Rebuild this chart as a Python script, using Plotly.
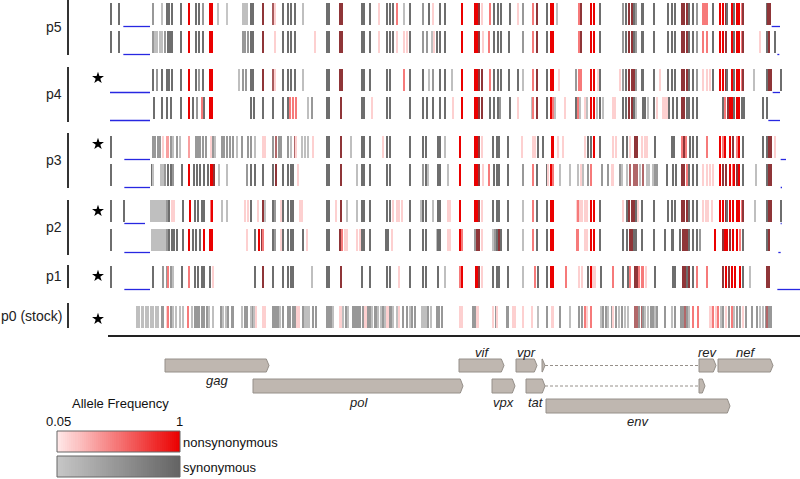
import plotly.graph_objects as go

# Genome position (scaled units, ~3 units per screen pixel) ; frequency ; type
# type: 'S' synonymous, 'N' nonsynonymous, 'B' both (overlapping N + S)
P5A = [(332,.9,'S'),(357,.9,'S'),(460,.5,'S'),(487,.12,'S'),(500,.9,'S'),(508,.9,'S'),(516,.9,'S'),(543,.9,'S'),(568,1,'N'),(587,.9,'S'),(598,.9,'S'),(610,.5,'S'),(630,1,'N'),(636,1,'N'),(655,.12,'S'),(680,.05,'S'),(728,.12,'S'),(735,.12,'S'),(742,.12,'S'),(752,.9,'S'),(760,.9,'S'),
(790,.9,'B'),(820,.6,'B'),(825,.15,'N'),(848,.9,'S'),(865,.9,'S'),(873,.9,'S'),(885,.9,'S'),(910,.12,'S'),(980,.9,'S'),(987,.9,'S'),(1020,.9,'B'),(1025,.9,'B'),(1085,.9,'S'),(1092,.9,'S'),(1110,.9,'S'),(1138,.15,'N'),(1162,.9,'S'),(1170,.9,'S'),(1178,.9,'S'),(1192,.5,'N'),(1212,.12,'S'),(1230,.9,'S'),(1270,.5,'S'),(1288,.9,'S'),(1298,.15,'N'),(1320,.9,'S'),(1335,.9,'S'),(1385,1,'N'),(1425,1,'N'),(1432,1,'N'),(1438,.9,'B'),(1445,.15,'N'),(1470,.5,'N'),(1482,.9,'S'),(1495,.9,'S'),(1502,.9,'S'),(1530,.9,'S'),(1555,.15,'N'),(1570,.5,'S'),
(1600,.5,'N'),(1610,.9,'B'),(1640,.9,'S'),(1652,1,'N'),(1658,1,'N'),(1670,.12,'S'),(1738,.5,'N'),(1743,.9,'B'),(1772,1,'N'),(1782,1,'N'),(1800,.9,'S'),(1868,.5,'S'),(1878,.9,'S'),(1888,.9,'B'),(1895,.9,'B'),(1902,.9,'S'),(1908,.5,'S'),(1925,.9,'S'),(1930,.9,'S'),(1962,.9,'S'),(2005,.9,'S'),(2015,.9,'S'),(2025,.9,'S'),(2045,.9,'B'),(2052,.9,'B'),(2060,.9,'B'),(2068,.9,'S'),(2080,.9,'S'),(2092,.5,'S'),(2110,.5,'N'),(2115,.5,'N'),(2120,.5,'N'),(2138,.9,'S'),(2160,1,'N'),(2168,1,'N'),(2178,.9,'B'),(2182,.9,'S'),(2195,1,'N'),(2202,.9,'S'),(2210,1,'N'),(2218,1,'N'),(2225,.5,'N'),(2230,.9,'B'),(2300,.9,'S'),(2305,.9,'B'),(2310,.9,'B')]

P5B = [(332,.9,'S'),(357,.9,'S'),(460,.5,'S'),(465,.12,'S'),(472,.12,'S'),(480,.12,'S'),(487,.12,'S'),(495,.5,'S'),(503,.9,'S'),(510,.9,'S'),(517,.9,'S'),(543,.9,'S'),(568,1,'N'),(587,.9,'S'),(598,.9,'S'),(610,.9,'S'),(630,1,'N'),(637,1,'N'),(728,.5,'S'),(735,.5,'S'),(745,.5,'S'),(752,.9,'S'),(760,.9,'S'),
(790,.9,'B'),(825,.15,'N'),(848,.9,'S'),(865,.9,'S'),(873,.9,'S'),(885,.9,'S'),(945,.15,'N'),(980,.9,'S'),(987,.9,'S'),(1020,.9,'B'),(1025,.9,'B'),(1085,.9,'S'),(1092,.9,'S'),(1110,.9,'S'),(1138,.15,'N'),(1162,.9,'S'),(1170,.9,'S'),(1178,.9,'S'),(1192,.15,'N'),(1212,.15,'N'),(1220,.15,'N'),(1230,.9,'S'),(1270,.5,'S'),(1280,.5,'S'),(1295,.12,'S'),(1302,.15,'N'),(1310,.9,'S'),(1320,.9,'S'),(1335,.9,'S'),(1385,1,'N'),(1425,1,'N'),(1432,1,'N'),(1438,.9,'B'),(1450,.15,'N'),(1468,.5,'N'),(1482,.9,'S'),(1495,.9,'S'),(1502,.9,'S'),(1528,.9,'S'),(1570,.5,'S'),
(1600,.5,'N'),(1610,.9,'B'),(1640,.9,'S'),(1652,1,'N'),(1658,1,'N'),(1738,.5,'N'),(1743,.9,'B'),(1772,1,'N'),(1782,1,'N'),(1800,.9,'S'),(1868,.5,'S'),(1878,.9,'S'),(1888,.9,'B'),(1895,.9,'B'),(1902,.9,'S'),(1908,.5,'S'),(1925,.9,'S'),(1930,.9,'S'),(1962,.9,'S'),(2005,.9,'S'),(2015,.9,'S'),(2025,.9,'S'),(2045,.9,'B'),(2052,.9,'B'),(2060,.9,'B'),(2068,.9,'S'),(2080,.9,'S'),(2092,.5,'S'),(2110,.5,'N'),(2120,.5,'N'),(2138,.9,'S'),(2160,1,'N'),(2168,1,'N'),(2178,.9,'B'),(2195,1,'N'),(2202,.9,'S'),(2210,1,'N'),(2218,1,'N'),(2225,.5,'N'),(2230,.9,'B'),(2280,.15,'N'),(2302,.9,'S'),(2308,.9,'B'),(2325,.9,'S')]

P4A = [(460,.9,'S'),(470,.5,'S'),(487,.9,'S'),(500,.9,'S'),(508,.9,'S'),(516,.9,'S'),(543,.9,'S'),(568,1,'N'),(587,.9,'S'),(598,.5,'S'),(610,.9,'S'),(630,1,'N'),(637,1,'N'),(718,.12,'S'),(728,.5,'S'),(738,.5,'S'),(752,.9,'S'),(760,.9,'S'),
(790,.9,'B'),(820,.6,'B'),(825,.15,'N'),(848,.9,'S'),(865,.9,'S'),(873,.9,'S'),(885,.9,'S'),(910,.12,'S'),(980,.9,'S'),(987,.9,'S'),(1020,.9,'B'),(1025,.9,'B'),(1085,.9,'S'),(1092,.9,'S'),(1110,.9,'S'),(1162,.9,'S'),(1170,.9,'S'),(1212,.5,'N'),(1230,.9,'S'),(1270,.9,'S'),(1288,.12,'S'),(1298,.5,'S'),(1320,.9,'S'),(1335,.9,'S'),(1355,.12,'S'),(1385,1,'N'),(1425,1,'N'),(1432,1,'N'),(1438,.9,'B'),(1445,.9,'B'),(1470,.5,'N'),(1482,.9,'S'),(1495,.9,'S'),(1502,.9,'S'),(1528,.9,'S'),(1555,.9,'S'),(1570,.12,'S'),
(1600,.5,'N'),(1610,.9,'B'),(1640,.9,'S'),(1652,1,'N'),(1658,1,'N'),(1678,.15,'N'),(1728,.5,'S'),(1738,.5,'N'),(1743,.5,'N'),(1772,1,'N'),(1782,1,'N'),(1795,.15,'N'),(1800,.9,'S'),(1860,.15,'N'),(1868,.5,'S'),(1878,.9,'S'),(1888,.9,'B'),(1895,.9,'B'),(1902,.9,'B'),(1908,.5,'S'),(1925,.9,'S'),(1930,.9,'S'),(1962,.9,'S'),(1980,.15,'N'),(2005,.9,'S'),(2015,.9,'S'),(2025,.9,'S'),(2045,.9,'B'),(2052,.9,'B'),(2060,.9,'B'),(2068,.9,'S'),(2080,.9,'S'),(2092,.5,'S'),(2110,.15,'N'),(2120,.15,'N'),(2130,.15,'N'),(2138,.9,'S'),(2160,1,'N'),(2168,1,'N'),(2178,.9,'B'),(2182,.9,'S'),(2195,1,'N'),(2202,.9,'S'),(2210,1,'N'),(2218,1,'N'),(2225,.5,'N'),(2230,.9,'B'),(2262,.12,'S'),(2302,.9,'S'),(2308,.9,'B'),(2312,.9,'B'),(2342,.9,'S')]

P4B = [(462,.9,'S'),(487,.9,'S'),(500,.9,'S'),(512,.9,'S'),(543,.9,'S'),(568,1,'N'),(580,.9,'S'),(592,.5,'S'),(605,.5,'N'),(612,.9,'S'),(630,1,'N'),(637,1,'N'),(752,.9,'S'),(762,.9,'S'),
(790,.9,'S'),(820,.9,'S'),(848,.9,'S'),(865,.9,'S'),(870,.5,'N'),(880,.5,'N'),(888,.5,'N'),(925,.12,'S'),(935,.5,'S'),(980,.9,'S'),(987,.9,'S'),(1023,.9,'B'),(1085,.9,'S'),(1092,.9,'S'),(1115,.15,'N'),(1162,.9,'S'),(1170,.9,'S'),(1230,.9,'S'),(1270,.9,'S'),(1280,.9,'S'),(1298,.9,'S'),(1320,.9,'S'),(1335,.9,'S'),(1360,.15,'N'),(1385,1,'N'),(1425,1,'N'),(1432,1,'N'),(1438,.9,'B'),(1445,.9,'B'),(1470,.9,'S'),(1482,.9,'S'),(1495,.9,'S'),(1500,.5,'S'),(1530,.9,'S'),(1555,.15,'N'),
(1595,.12,'S'),(1600,.5,'N'),(1610,.9,'B'),(1640,.9,'S'),(1652,1,'N'),(1658,.5,'N'),(1665,.12,'S'),(1695,.15,'N'),(1728,.9,'S'),(1735,.5,'N'),(1740,.12,'S'),(1755,.15,'N'),(1762,.12,'S'),(1772,1,'N'),(1782,1,'N'),(1790,.12,'S'),(1800,.9,'S'),(1808,.12,'S'),(1838,.15,'N'),(1845,.15,'N'),(1868,.9,'S'),(1878,.9,'S'),(1888,.9,'B'),(1895,.9,'B'),(1902,.9,'S'),(1908,.12,'S'),(1928,.9,'S'),(1935,.9,'S'),(1945,.12,'S'),(1962,.9,'S'),(1972,.15,'N'),(1990,.15,'N'),(1995,.15,'N'),(2000,.15,'N'),(2008,.9,'S'),(2018,.9,'S'),(2030,.9,'S'),(2045,.9,'B'),(2052,.9,'B'),(2060,.9,'S'),(2068,.9,'S'),(2080,.9,'S'),(2092,.9,'S'),(2170,.9,'S'),(2175,.5,'N'),(2185,.9,'B'),(2190,1,'N'),(2195,1,'N'),(2202,.9,'S'),(2210,1,'N'),(2218,1,'N'),(2225,.9,'S'),(2232,.9,'S'),(2290,.9,'S'),(2302,.9,'S')]

P3A = [(332,.9,'S'),(460,.5,'S'),(466,.5,'S'),(473,.5,'S'),(480,.5,'S'),(490,.15,'N'),(500,.35,'N'),(505,.35,'N'),(512,.5,'S'),(520,.12,'S'),(530,.5,'S'),(540,.12,'S'),(568,.35,'N'),(588,.5,'S'),(593,.5,'S'),(600,.5,'S'),(610,.5,'S'),(618,.5,'S'),(632,.15,'N'),(638,.5,'S'),(645,.12,'S'),(665,.5,'S'),(672,.5,'S'),(680,.5,'S'),(690,.5,'S'),(700,.5,'S'),(712,.12,'S'),(725,.5,'S'),(745,.5,'S'),(752,.5,'S'),(765,.12,'S'),
(788,.15,'N'),(795,.15,'N'),(820,.5,'S'),(827,.5,'B'),(838,.5,'S'),(843,.5,'S'),(865,.5,'S'),(872,.12,'S'),(885,.5,'B'),(888,.15,'N'),(905,.12,'S'),(915,.12,'S'),(925,.12,'S'),(940,.15,'N'),(980,.9,'S'),(988,.9,'S'),(1022,.9,'B'),(1052,.12,'S'),(1085,.9,'S'),(1092,.9,'S'),(1110,.9,'S'),(1148,.15,'N'),(1160,.9,'S'),(1170,.9,'S'),(1230,.9,'S'),(1270,.9,'S'),(1278,.9,'S'),(1315,.9,'S'),(1320,.9,'S'),(1335,.12,'S'),(1380,1,'N'),(1425,1,'N'),(1430,1,'N'),(1436,.9,'B'),(1445,.15,'N'),(1480,.9,'S'),(1492,.9,'S'),(1498,.9,'S'),(1525,.9,'S'),(1565,.15,'N'),
(1600,.15,'N'),(1605,.15,'N'),(1615,.9,'S'),(1630,.9,'S'),(1655,1,'N'),(1658,1,'N'),(1675,.15,'N'),(1690,.15,'N'),(1755,.15,'N'),(1765,.9,'S'),(1773,.9,'S'),(1782,1,'N'),(1800,.9,'S'),(1840,.15,'N'),(1848,.15,'N'),(1868,.9,'S'),(1880,.9,'S'),(1890,.15,'N'),(1905,.9,'B'),(1910,.9,'B'),(1925,.15,'N'),(1935,.15,'N'),(1940,.15,'N'),(1965,.9,'S'),(2015,.9,'S'),(2022,.9,'S'),(2045,.5,'N'),(2052,.9,'B'),(2058,.5,'N'),(2070,.9,'S'),(2080,.9,'S'),(2092,.9,'S'),(2120,.5,'N'),(2160,1,'N'),(2168,.5,'N'),(2175,1,'N'),(2190,1,'N'),(2200,.9,'B'),(2210,.5,'N'),(2218,1,'N'),(2230,.9,'S'),(2290,.9,'S'),(2302,.9,'S'),(2308,.9,'B'),(2312,.9,'B'),(2325,.15,'N')]

P3B = [(332,.9,'S'),(455,.9,'S'),(460,.12,'S'),(482,.12,'S'),(488,.12,'S'),(495,.5,'S'),(505,.9,'S'),(512,.9,'S'),(518,.5,'S'),(545,.9,'S'),(568,1,'N'),(583,.9,'S'),(592,.9,'S'),(600,.9,'S'),(612,.9,'S'),(625,.9,'S'),(632,1,'N'),(637,1,'N'),(642,.9,'B'),(657,.12,'S'),(680,.12,'S'),(742,.5,'S'),(752,.9,'S'),(765,.9,'S'),
(790,.9,'S'),(820,.9,'S'),(828,.9,'B'),(848,.9,'S'),(865,.9,'S'),(873,.9,'S'),(880,.9,'S'),(893,.15,'N'),(980,.9,'S'),(987,.9,'S'),(1023,.9,'B'),(1070,.12,'S'),(1085,.9,'S'),(1092,.9,'S'),(1110,.9,'S'),(1160,.9,'S'),(1170,.9,'S'),(1230,.9,'S'),(1270,.5,'S'),(1278,.9,'S'),(1285,.12,'S'),(1315,.9,'S'),(1320,.9,'S'),(1343,.12,'S'),(1380,1,'N'),(1425,1,'N'),(1430,1,'N'),(1436,.9,'B'),(1450,.15,'N'),(1468,.5,'N'),(1482,.9,'S'),(1492,.9,'S'),(1498,.9,'S'),(1525,.9,'S'),(1570,.5,'S'),
(1600,.5,'N'),(1610,.9,'S'),(1640,.9,'S'),(1645,.15,'N'),(1652,1,'N'),(1658,.5,'N'),(1680,.12,'S'),(1710,.12,'S'),(1735,.12,'S'),(1742,.15,'N'),(1750,.12,'S'),(1765,.5,'S'),(1773,.5,'N'),(1805,.5,'S'),(1825,.5,'S'),(1835,.15,'N'),(1840,.15,'N'),(1860,.5,'S'),(1865,.12,'S'),(1880,.12,'S'),(1890,.5,'B'),(1902,.5,'B'),(1908,.5,'B'),(1912,.5,'B'),(1920,.12,'S'),(1930,.5,'B'),(1940,.12,'S'),(1948,.12,'S'),(1958,.12,'S'),(1965,.5,'S'),(1970,.5,'S'),(2000,.9,'S'),(2018,.9,'S'),(2028,.9,'S'),(2045,.9,'B'),(2052,.9,'B'),(2060,.5,'N'),(2068,.9,'S'),(2080,.9,'S'),(2090,.9,'S'),(2110,.15,'N'),(2120,.15,'N'),(2130,.15,'N'),(2138,.15,'N'),(2160,1,'N'),(2168,.9,'B'),(2178,.9,'B'),(2190,1,'N'),(2198,.5,'N'),(2202,1,'N'),(2210,.9,'B'),(2218,1,'N'),(2228,.9,'S'),(2268,.12,'S'),(2302,.9,'S'),(2308,.9,'B'),(2312,.9,'B')]

P2A = [(332,.9,'S'),(372,.9,'S'),(452,.12,'S'),(457,.12,'S'),(462,.12,'S'),(467,.12,'S'),(472,.12,'S'),(477,.12,'S'),(482,.12,'S'),(487,.12,'S'),(492,.12,'S'),(497,.12,'S'),(502,.5,'S'),(508,.9,'S'),(515,.15,'N'),(522,.15,'N'),(548,.9,'S'),(570,1,'N'),(585,.9,'S'),(595,.9,'S'),(605,.9,'S'),(612,.9,'S'),(632,.5,'N'),(637,1,'N'),(665,.12,'S'),(680,.12,'S'),(735,.15,'N'),(745,.15,'N'),(752,.9,'S'),(775,.15,'N'),
(790,.9,'B'),(795,.12,'S'),(820,.9,'S'),(825,.5,'S'),(842,.15,'N'),(848,.9,'S'),(865,.9,'S'),(873,.9,'S'),(880,.9,'S'),(900,.15,'N'),(905,.15,'N'),(980,.9,'S'),(987,.9,'S'),(1008,.15,'N'),(1023,.9,'B'),(1040,.12,'S'),(1070,.12,'S'),(1085,.9,'S'),(1092,.9,'S'),(1110,.9,'S'),(1160,.9,'S'),(1170,.9,'S'),(1180,.15,'N'),(1190,.15,'N'),(1198,.15,'N'),(1205,.15,'N'),(1230,.9,'S'),(1262,.12,'S'),(1270,.9,'S'),(1278,.9,'S'),(1300,.12,'S'),(1315,.9,'S'),(1320,.9,'S'),(1345,.15,'N'),(1350,.15,'N'),(1380,1,'N'),(1425,1,'N'),(1430,1,'N'),(1436,.9,'B'),(1445,.15,'N'),(1480,.9,'S'),(1492,.9,'S'),(1498,.9,'S'),(1525,.9,'S'),(1570,.12,'S'),
(1600,.5,'N'),(1610,.9,'S'),(1640,.9,'S'),(1652,1,'N'),(1658,1,'N'),(1730,.15,'N'),(1735,.5,'N'),(1740,.15,'N'),(1745,.15,'N'),(1755,.15,'N'),(1760,.15,'N'),(1772,1,'N'),(1782,1,'N'),(1800,.9,'S'),(1870,.15,'N'),(1880,.9,'S'),(1888,.9,'B'),(1895,.9,'B'),(1902,.9,'B'),(1908,.9,'S'),(1915,.15,'N'),(1925,.9,'S'),(1962,.9,'S'),(2005,.9,'S'),(2015,.9,'S'),(2025,.9,'S'),(2045,.9,'B'),(2052,.9,'B'),(2060,.9,'B'),(2068,.9,'S'),(2080,.9,'S'),(2090,.9,'S'),(2110,.15,'N'),(2118,.15,'N'),(2125,.15,'N'),(2135,.15,'N'),(2160,1,'N'),(2168,1,'N'),(2178,.9,'B'),(2182,.9,'S'),(2190,1,'N'),(2200,1,'N'),(2210,1,'N'),(2218,1,'N'),(2225,.5,'N'),(2230,.9,'B'),(2265,.12,'S'),(2302,.9,'S'),(2308,.9,'B'),(2312,.9,'B'),(2342,.9,'S')]

P2B = [(332,.9,'S'),(455,.12,'S'),(460,.12,'S'),(465,.12,'S'),(470,.12,'S'),(475,.12,'S'),(480,.12,'S'),(485,.12,'S'),(490,.12,'S'),(495,.12,'S'),(500,.5,'S'),(508,.9,'S'),(515,.9,'S'),(522,.9,'S'),(530,.9,'S'),(548,.9,'S'),(568,1,'N'),(578,.9,'S'),(588,.9,'S'),(600,.9,'S'),(612,1,'N'),(630,1,'N'),(637,1,'N'),(740,.15,'N'),(765,.9,'S'),(778,1,'N'),
(785,.9,'B'),(790,.5,'N'),(820,.9,'S'),(825,.5,'S'),(842,.15,'N'),(848,.9,'S'),(865,.9,'S'),(873,.9,'S'),(880,.9,'S'),(908,.9,'S'),(920,.15,'N'),(980,.9,'S'),(987,.9,'S'),(1020,.9,'B'),(1025,.5,'N'),(1035,.15,'N'),(1042,.15,'N'),(1070,.15,'N'),(1080,.15,'N'),(1085,.9,'S'),(1092,.9,'S'),(1110,.9,'S'),(1158,.9,'S'),(1165,.9,'S'),(1175,.15,'N'),(1230,.9,'S'),(1270,.9,'S'),(1278,.9,'S'),(1310,.12,'S'),(1315,.9,'S'),(1320,.9,'S'),(1345,.15,'N'),(1350,.15,'N'),(1380,1,'N'),(1385,.5,'N'),(1425,.5,'S'),(1430,.9,'B'),(1436,.9,'B'),(1445,.15,'N'),(1480,.12,'S'),(1485,.5,'S'),(1492,.9,'S'),(1498,.9,'B'),(1502,.9,'S'),(1525,.9,'S'),(1570,.12,'S'),
(1600,.5,'N'),(1610,.9,'S'),(1640,.9,'S'),(1652,1,'N'),(1658,1,'N'),(1730,.5,'N'),(1735,.5,'N'),(1755,.15,'N'),(1762,.15,'N'),(1772,1,'N'),(1782,1,'N'),(1800,.9,'S'),(1868,.9,'S'),(1880,.9,'S'),(1890,.9,'B'),(1895,.9,'B'),(1902,.9,'S'),(1908,.9,'S'),(1925,.9,'S'),(1962,.9,'S'),(1995,.9,'S'),(2015,.9,'S'),(2020,.9,'S'),(2040,.9,'S'),(2048,.9,'B'),(2055,.9,'B'),(2062,.9,'B'),(2068,.9,'S'),(2080,.9,'S'),(2090,.9,'S'),(2100,.5,'S'),(2145,1,'N'),(2168,.9,'B'),(2175,1,'N'),(2182,1,'N'),(2190,.9,'B'),(2200,1,'N'),(2210,1,'N'),(2220,.5,'N'),(2230,.9,'S'),(2302,.9,'S'),(2308,.9,'B')]

P1 = [(332,.9,'S'),(460,.9,'S'),(490,.5,'S'),(500,.5,'S'),(505,.5,'N'),(512,.5,'S'),(518,.12,'S'),(545,.9,'S'),(568,.5,'N'),(585,.9,'S'),(595,.9,'S'),(605,.9,'S'),(612,.9,'S'),(630,.9,'S'),(640,.15,'N'),(765,.9,'S'),
(790,.9,'B'),(820,.9,'S'),(848,.9,'S'),(865,.9,'S'),(873,.9,'S'),(880,.9,'S'),(935,.12,'S'),(980,.9,'S'),(987,.9,'S'),(1023,.9,'B'),(1085,.9,'S'),(1110,.9,'S'),(1160,.9,'S'),(1170,.9,'S'),(1198,.15,'N'),(1230,.9,'S'),(1270,.9,'S'),(1278,.9,'S'),(1315,.9,'S'),(1335,.12,'S'),(1380,.5,'N'),(1386,1,'N'),(1428,1,'N'),(1432,1,'N'),(1438,.9,'B'),(1445,.15,'N'),(1480,.9,'S'),(1492,.9,'S'),(1498,.9,'S'),(1525,.9,'S'),(1570,.12,'S'),
(1605,.5,'N'),(1615,.9,'S'),(1640,.9,'S'),(1652,1,'N'),(1658,1,'N'),(1698,.5,'N'),(1738,.15,'N'),(1745,.15,'N'),(1765,.9,'S'),(1773,1,'N'),(1780,.15,'N'),(1785,.15,'N'),(1802,.9,'S'),(1840,.5,'N'),(1868,.9,'S'),(1883,.9,'S'),(1890,.5,'N'),(1905,.9,'B'),(1910,.9,'B'),(1918,.5,'N'),(1925,.5,'N'),(1930,.5,'N'),(1938,.15,'N'),(1965,.9,'S'),(2018,.9,'S'),(2025,.9,'S'),(2048,.9,'B'),(2055,.9,'B'),(2062,.9,'S'),(2068,.9,'B'),(2080,.9,'S'),(2090,.5,'N'),(2120,.5,'N'),(2170,.9,'B'),(2178,1,'N'),(2188,.9,'B'),(2195,1,'N'),(2205,1,'N'),(2220,1,'N'),(2228,.9,'S'),(2250,.12,'S'),(2302,.9,'B'),(2308,.9,'B')]

P0 = [(410,.12,'S'),(418,.12,'S'),(425,.12,'S'),(430,.12,'S'),(438,.12,'S'),(445,.12,'S'),(452,.12,'S'),(460,.12,'S'),(468,.12,'S'),(475,.12,'S'),(485,.5,'S'),(490,.5,'S'),(500,.15,'N'),(505,.5,'N'),(512,.5,'S'),(520,.12,'S'),(528,.12,'S'),(540,.12,'S'),(548,.12,'S'),(565,.5,'N'),(575,.12,'S'),(585,.5,'S'),(590,.5,'S'),(598,.5,'S'),(605,.5,'S'),(612,.5,'S'),(620,.5,'S'),(628,.12,'S'),(640,.12,'S'),(662,.5,'S'),(670,.12,'S'),(678,.12,'S'),(685,.5,'S'),(695,.5,'S'),(700,.5,'S'),(725,.12,'S'),(735,.5,'S'),(742,.5,'S'),(752,.12,'S'),(758,.5,'S'),(763,.12,'S'),(768,.15,'N'),
(790,.15,'N'),(795,.15,'N'),(818,.5,'S'),(823,.5,'S'),(828,.5,'S'),(835,.5,'S'),(840,.12,'S'),(848,.5,'S'),(865,.5,'S'),(870,.5,'S'),(878,.5,'S'),(885,.5,'S'),(892,.15,'N'),(898,.15,'N'),(910,.5,'S'),(915,.12,'S'),(920,.12,'S'),(928,.12,'S'),(940,.5,'S'),(948,.5,'S'),(980,.5,'S'),(985,.5,'S'),(990,.5,'S'),(995,.5,'S'),(1000,.12,'S'),(1020,.15,'N'),(1025,.15,'N'),(1030,.12,'S'),(1038,.5,'S'),(1045,.12,'S'),(1060,.5,'S'),(1065,.5,'S'),(1070,.5,'S'),(1075,.5,'S'),(1080,.5,'S'),(1090,.5,'S'),(1095,.15,'N'),(1100,.15,'N'),(1105,.5,'S'),(1110,.5,'S'),(1115,.12,'S'),(1125,.5,'S'),(1130,.5,'S'),(1135,.12,'S'),(1142,.12,'S'),(1148,.5,'S'),(1155,.12,'S'),(1160,.15,'N'),(1165,.15,'N'),(1170,.5,'S'),(1175,.5,'S'),(1180,.12,'S'),(1190,.12,'S'),(1198,.15,'N'),(1210,.5,'S'),(1220,.5,'S'),(1230,.12,'S'),(1235,.5,'S'),(1245,.5,'S'),(1265,.12,'S'),(1272,.12,'S'),(1278,.12,'S'),(1285,.5,'S'),(1292,.12,'S'),(1310,.5,'S'),(1318,.5,'S'),(1325,.5,'S'),(1380,.15,'N'),(1385,.15,'N'),(1420,.5,'S'),(1425,.5,'S'),(1430,.15,'N'),(1435,.15,'N'),(1480,.15,'N'),(1488,.5,'S'),(1492,.15,'N'),(1520,.5,'S'),(1525,.5,'S'),(1540,.15,'N'),(1545,.15,'N'),(1570,.15,'N'),
(1595,.15,'N'),(1615,.12,'S'),(1640,.5,'S'),(1655,.15,'N'),(1660,.15,'N'),(1680,.5,'S'),(1710,.12,'S'),(1738,.5,'S'),(1745,.5,'S'),(1755,.5,'N'),(1762,.15,'N'),(1772,.5,'N'),(1802,.12,'S'),(1810,.5,'S'),(1818,.5,'S'),(1825,.12,'S'),(1835,.5,'S'),(1840,.15,'N'),(1848,.5,'S'),(1858,.12,'S'),(1865,.5,'S'),(1875,.12,'S'),(1885,.12,'S'),(1905,.5,'B'),(1910,.5,'B'),(1918,.5,'S'),(1925,.5,'B'),(1930,.5,'S'),(1935,.12,'S'),(1945,.12,'S'),(1952,.5,'S'),(1958,.5,'S'),(1965,.12,'S'),(1972,.5,'S'),(1995,.5,'S'),(2015,.12,'S'),(2025,.5,'S'),(2042,.5,'S'),(2048,.5,'S'),(2055,.5,'B'),(2060,.5,'S'),(2068,.12,'S'),(2080,.5,'N'),(2095,.5,'N'),(2130,.15,'N'),(2135,.15,'N'),(2140,.5,'N'),(2148,.15,'N'),(2155,.5,'N'),(2162,.12,'S'),(2170,.5,'S'),(2178,.15,'N'),(2188,.5,'S'),(2195,.5,'N'),(2202,.12,'S'),(2210,.5,'S'),(2220,.5,'S'),(2230,.15,'N'),(2238,.5,'S'),(2255,.5,'S'),(2270,.5,'S'),(2280,.12,'S'),(2290,.12,'S'),(2298,.5,'S'),(2302,.5,'B'),(2308,.5,'S'),(2312,.5,'S')]

# low-coverage (blue) segments per row: (start, end)
COV = {
    "p5a": [(370, 450), (2315, 2340)], "p5b": [(370, 450), (2332, 2338)],
    "p4a": [(330, 450), (2318, 2340)], "p4b": [(330, 450), (2305, 2340)],
    "p3a": [(373, 450), (2342, 2358)], "p3b": [(373, 450), (2342, 2346)],
    "p2a": [(373, 435), (2342, 2345)], "p2b": [(373, 450), (2335, 2342)],
    "p1": [(373, 450), (2332, 2400)], "p0": [],
}

# genes: name, start, end
GENES_R1 = [("gag", 495, 807), ("vif", 1377, 1512), ("vpr", 1548, 1611), ("", 1626, 1635), ("rev", 2097, 2148), ("nef", 2154, 2319)]
GENES_R2 = [("pol", 759, 1389), ("vpx", 1476, 1545), ("tat", 1578, 1635), ("", 2097, 2115)]
GENES_R3 = [("env", 1638, 2190)]
SPLICE = [(1635, 2097)]

PASSAGES = ["p5", "p4", "p3", "p2", "p1", "p0 (stock)"]
STARRED = [False, True, True, True, True, True]

# ---------------- layout (screen-like y units, 0 at top) ----------------
ROW_BANDS = [("p5a", P5A, 3, 25), ("p5b", P5B, 31, 53), ("p4a", P4A, 69, 91), ("p4b", P4B, 97, 119),
             ("p3a", P3A, 136, 158), ("p3b", P3B, 164, 186), ("p2a", P2A, 200, 222), ("p2b", P2B, 229, 251),
             ("p1", P1, 266, 288), ("p0", P0, 306, 328)]
LABEL_BARS = [(0, 55), (67, 122), (133, 188), (200, 255), (265, 288), (303, 328)]


def lerp(c0, c1, u):
    return "rgb(%d,%d,%d)" % tuple(round(a + (b - a) * u) for a, b in zip(c0, c1))


N0, N1 = (255, 232, 232), (235, 0, 0)
S0, S1 = (198, 198, 198), (100, 100, 100)
B0, B1 = (214, 160, 160), (135, 40, 44)


def tick_color(f, t):
    u = min(max((f - 0.05) / 0.95, 0), 1)
    if t == "N":
        return lerp(N0, N1, u)
    if t == "S":
        return lerp(S0, S1, u)
    return lerp(B0, B1, u)


fig = go.Figure()
for name, data, top, bot in ROW_BANDS:
    xs = [d[0] for d in data]
    cols = [tick_color(d[1], d[2]) for d in data]
    fig.add_trace(go.Bar(x=xs, y=[bot - top] * len(xs), base=[top] * len(xs), width=6.2,
                         marker=dict(color=cols, line=dict(width=0)), hoverinfo="skip", showlegend=False))
    for s, e in COV[name]:
        yb = bot + 1.5
        fig.add_shape(type="line", x0=s, x1=e, y0=yb, y1=yb, line=dict(color="rgb(40,40,225)", width=1.3))

FONT = "Liberation Sans, Arial, sans-serif"
label_y = [27, 94, 160, 227, 276, 316]
for (y0, y1), lab, ly, st in zip(LABEL_BARS, PASSAGES, label_y, STARRED):
    fig.add_shape(type="line", x0=204, x1=204, y0=y0, y1=y1, line=dict(color="#333", width=2))
    fig.add_annotation(x=192, y=ly, text=lab, showarrow=False, xanchor="right", yanchor="middle",
                       font=dict(family=FONT, size=14, color="#222"))
star_y = [None, 78, 144, 211, 276, 319]
for sy, st in zip(star_y, STARRED):
    if st:
        fig.add_trace(go.Scatter(x=[294], y=[sy], mode="markers", marker=dict(symbol="star", size=9, color="black"),
                                 hoverinfo="skip", showlegend=False))

fig.add_shape(type="line", x0=324, x1=2400, y0=336, y1=336, line=dict(color="#222", width=2))

# genome map
GFILL, GLINE = "rgb(191,183,176)", "rgb(150,144,138)"
TIP = 8


def gene(x0, x1, y0, y1):
    tip = min(TIP, x1 - x0)
    ym = (y0 + y1) / 2
    path = f"M {x0},{y0} L {x1-tip},{y0} L {x1},{ym} L {x1-tip},{y1} L {x0},{y1} Z"
    fig.add_shape(type="path", path=path, fillcolor=GFILL, line=dict(color=GLINE, width=1), layer="above")


gene_font = dict(family=FONT, size=13, color="#222")
for nm, s, e in GENES_R1:
    gene(s, e, 359, 372)
    if nm:
        ylab = 352 if nm != "gag" else 380
        fig.add_annotation(x=(s + e) / 2, y=ylab, text=f"<i>{nm}</i>", showarrow=False, yanchor="middle", font=gene_font)
for nm, s, e in GENES_R2:
    gene(s, e, 379, 393)
    if nm:
        fig.add_annotation(x=(s + e) / 2, y=402, text=f"<i>{nm}</i>", showarrow=False, yanchor="middle", font=gene_font)
for nm, s, e in GENES_R3:
    gene(s, e, 399, 413)
    fig.add_annotation(x=(s + e) / 2, y=421, text=f"<i>{nm}</i>", showarrow=False, yanchor="middle", font=gene_font)
for s, e in SPLICE:
    for yy in (365.5, 386):
        fig.add_shape(type="line", x0=s, x1=e, y0=yy, y1=yy, line=dict(color="rgb(150,144,138)", width=1, dash="3px,2px"))

# legend
LEG_FREQ = [0.05 + 0.95 * i / 59 for i in range(60)]
xe = [171 + (540 - 171) * i / 60 for i in range(61)]
for (y0, y1), c0, c1 in [((431, 452), N0, N1), ((456, 477), S0, S1)]:
    fig.add_trace(go.Heatmap(z=[LEG_FREQ], x=xe, y=[y0, y1], zmin=0.05, zmax=1,
                             colorscale=[[0, lerp(c0, c1, 0)], [1, lerp(c0, c1, 1)]],
                             showscale=False, hoverinfo="skip"))
    fig.add_shape(type="rect", x0=171, x1=540, y0=y0, y1=y1, line=dict(color="#666", width=1))
leg_font = dict(family=FONT, size=13, color="#111")
fig.add_annotation(x=360, y=403, text="Allele Frequency", showarrow=False, font=leg_font)
fig.add_annotation(x=174, y=421, text="0.05", showarrow=False, font=leg_font)
fig.add_annotation(x=537, y=421, text="1", showarrow=False, font=leg_font)
fig.add_annotation(x=544, y=442, text="nonsynonymous", showarrow=False, xanchor="left", font=leg_font)
fig.add_annotation(x=544, y=467, text="synonymous", showarrow=False, xanchor="left", font=leg_font)

fig.update_layout(width=800, height=479, margin=dict(l=0, r=0, t=0, b=0),
                  paper_bgcolor="white", plot_bgcolor="white", barmode="overlay", bargap=0,
                  xaxis=dict(range=[0, 2400], visible=False, fixedrange=True),
                  yaxis=dict(range=[479, 0], visible=False, fixedrange=True),
                  showlegend=False)
fig.write_html("out.html", config={"displayModeBar": False, "staticPlot": True},
               post_script="document.body.style.margin='0px';document.body.style.overflow='hidden';")
